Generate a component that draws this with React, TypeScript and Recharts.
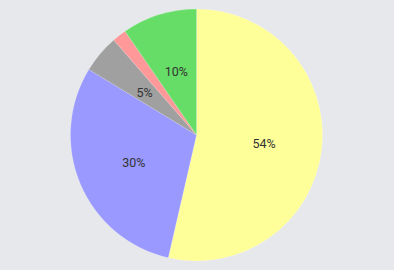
import { PieChart, Pie, Cell } from 'recharts';

const labels = ['A', 'B', 'C', 'D', 'E'];
const values = [53.6, 30.1, 4.9, 1.8, 9.6];
const colors = ['#ffff99', '#9999ff', '#a0a0a0', '#ff9999', '#66dd66'];

const data = labels.map((name, i) => ({ name, value: values[i] }));
const total = values.reduce((a, b) => a + b, 0);

const RADIAN = Math.PI / 180;

function renderLabel(props: any) {
  const { cx, cy, midAngle, outerRadius, value } = props;
  const pct = (value / total) * 100;
  if (pct < 3) return null;
  const r = outerRadius * 0.54;
  const x = cx + r * Math.cos(-midAngle * RADIAN);
  const y = cy + r * Math.sin(-midAngle * RADIAN);
  return (
    <text
      x={x}
      y={y + 1}
      textAnchor="middle"
      dominantBaseline="central"
      fill="#333"
      fontSize={12.5}
      fontFamily="Roboto"
    >
      {`${Math.round(pct)}%`}
    </text>
  );
}

export default function App() {
  return (
    <div style={{ position: 'fixed', top: 0, left: 0, width: 394, height: 270, background: '#e7e8ec' }}>
      <PieChart width={394} height={270} margin={{ top: 0, right: 0, bottom: 0, left: 0 }}>
        <Pie
          data={data}
          dataKey="value"
          cx={196.5}
          cy={135}
          outerRadius={126}
          startAngle={90}
          endAngle={-270}
          label={renderLabel}
          labelLine={false}
          stroke="rgba(255,255,255,0.3)"
          strokeWidth={0.5}
          isAnimationActive={false}
        >
          {data.map((d, i) => (
            <Cell key={d.name} fill={colors[i]} />
          ))}
        </Pie>
      </PieChart>
    </div>
  );
}
